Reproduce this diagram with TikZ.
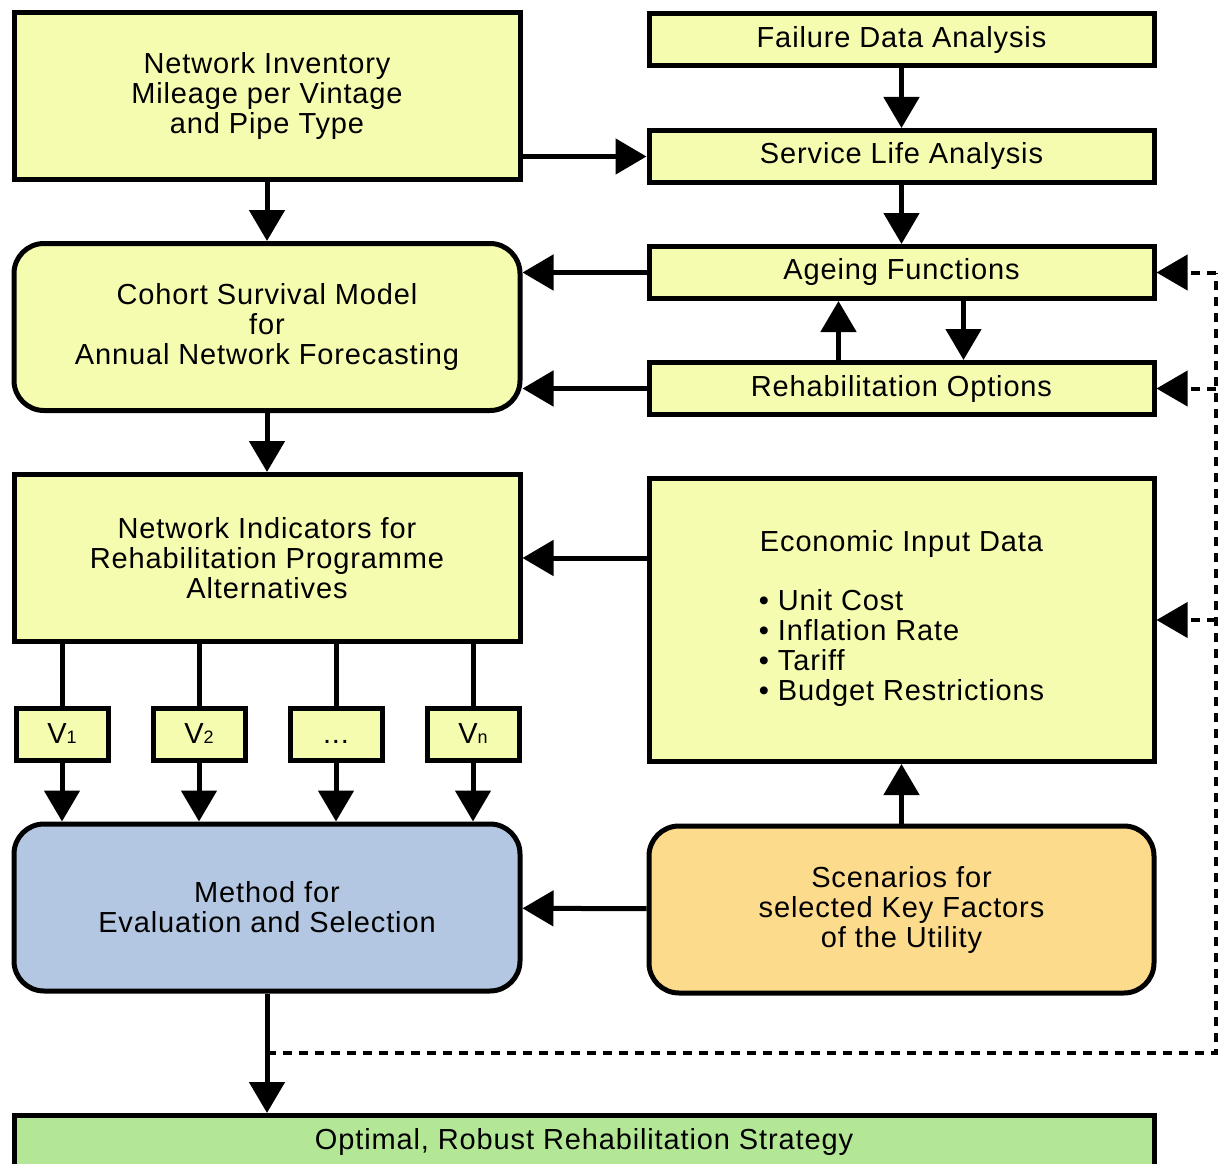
\documentclass[tikz,border=0pt]{standalone}
\usepackage{fontspec}
\setmainfont{Liberation Sans}[LetterSpace=3]
\usepackage{tikz}
\usetikzlibrary{arrows.meta, positioning}
\definecolor{boxyellow}{RGB}{246, 252, 175}
\definecolor{boxblue}{RGB}{180, 199, 226}
\definecolor{boxorange}{RGB}{253, 219, 140}
\definecolor{boxgreen}{RGB}{179, 231, 150}

\begin{document}
\begin{tikzpicture}[
        x=1pt, y=-1pt,
        box/.style={rectangle, draw=black, fill=boxyellow, line width=5pt, minimum width=505pt, minimum height=52pt, align=center, inner sep=0pt, font=\fontsize{29}{30}\selectfont},
        bigbox/.style={box, minimum width=506pt, minimum height=167pt},
        roundbox/.style={bigbox, rounded corners=30pt},
        vbox/.style={box, minimum width=92pt},
        arrow/.style={-{Triangle[length=31pt, width=35pt]}, line width=5pt},
        link/.style={line width=5pt},
        fbline/.style={line width=4pt, dash pattern=on 9pt off 7pt},
        fbarrow/.style={fbline, -{Triangle[length=31pt, width=35pt]}}
    ]
        \useasboundingbox (0,0) rectangle (1219,1164);
        \fill[white] (0,0) rectangle (1219,1164);

        % left column
        \node[bigbox] at (267,96) (inv) {Network Inventory\\Mileage per Vintage\\and Pipe Type};
        \node[roundbox, below=59pt of inv] (coh) {Cohort Survival Model\\for\\Annual Network Forecasting};
        \node[bigbox, below=59pt of coh] (ind) {Network Indicators for\\Rehabilitation Programme\\Alternatives};
        \node[vbox] at (62,734) (v1) {V{\fontsize{18}{18}\selectfont 1}};
        \node[vbox] at (199,734) (v2) {V{\fontsize{18}{18}\selectfont 2}};
        \node[vbox] at (336,734) (vdots) {\vphantom{V}...};
        \node[vbox] at (473,734) (vn) {V{\fontsize{18}{18}\selectfont n}};
        \node[roundbox, fill=boxblue] at (267,907.5) (meth) {Method for\\Evaluation and Selection};

        % right column
        \node[box] at (901.5,40) (fail) {Failure Data Analysis};
        \node[box, below=59.5pt of fail] (svc) {Service Life Analysis};
        \node[box, below=59pt of svc] (age) {Ageing Functions};
        \node[box, below=59pt of age] (reh) {Rehabilitation Options};
        \node[box, minimum height=283pt, below=59pt of reh] (econ) {Economic Input Data\\[31pt]\begin{tabular}{@{}l@{}}• Unit Cost\\• Inflation Rate\\• Tariff\\• Budget Restrictions\end{tabular}};
        \node[roundbox, minimum width=505pt, fill=boxorange, below=59.5pt of econ] (scen) {Scenarios for\\selected Key Factors\\of the Utility};

        % result
        \node[box, fill=boxgreen, minimum width=1140pt] at (584,1141.5) (opt) {Optimal, Robust Rehabilitation Strategy};

        % feedback points
        \coordinate (fbstart) at (267,1053);
        \coordinate (fbcorner) at (1216,1053);
        \coordinate (fbage) at (fbcorner |- age.east);
        \coordinate (fbreh) at (fbcorner |- reh.east);
        \coordinate (fbecon) at (fbcorner |- econ.east);

        \draw[arrow] (inv) -- (coh);
        \draw[arrow] (svc.west -| inv.east) -- (svc.west);
        \draw[arrow] (fail) -- (svc);
        \draw[arrow] (svc) -- (age);
        \draw[arrow] (age.west) -- (age.west -| coh.east);
        \draw[arrow] (reh.west) -- (reh.west -| coh.east);
        \draw[arrow] ([xshift=-63pt]reh.north) -- ([xshift=-63pt]age.south);
        \draw[arrow] ([xshift=62pt]age.south) -- ([xshift=62pt]reh.north);
        \draw[arrow] (coh) -- (ind);
        \draw[arrow] (econ.west |- ind.east) -- (ind.east);
        \draw[link] (v1 |- ind.south) -- (v1.north);
        \draw[link] (v2 |- ind.south) -- (v2.north);
        \draw[link] (vdots |- ind.south) -- (vdots.north);
        \draw[link] (vn |- ind.south) -- (vn.north);
        \draw[arrow] (v1.south) -- (v1.south |- meth.north);
        \draw[arrow] (v2.south) -- (v2.south |- meth.north);
        \draw[arrow] (vdots.south) -- (vdots.south |- meth.north);
        \draw[arrow] (vn.south) -- (vn.south |- meth.north);
        \draw[arrow] (scen) -- (meth);
        \draw[arrow] (scen) -- (econ);
        \draw[arrow] (meth.south) -- (meth.south |- opt.north);

        \draw[fbline] (fbstart) -- (fbcorner) -- (fbage);
        \draw[fbarrow] (fbage) -- (age.east);
        \draw[fbarrow] (fbreh) -- (reh.east);
        \draw[fbarrow] (fbecon) -- (econ.east);
    \end{tikzpicture}
\end{document}
